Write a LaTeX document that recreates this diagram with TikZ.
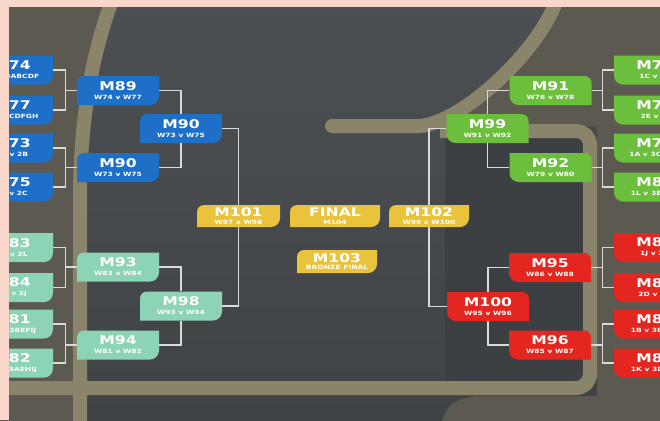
\documentclass[tikz,border=0pt]{standalone}
\usepackage{fontspec}
\newfontfamily\boxfont[FakeStretch=1.3]{DejaVu Sans}
\definecolor{groundtop}{HTML}{4D5053}
\definecolor{groundlow}{HTML}{404346}
\definecolor{pit}{HTML}{3D4043}
\definecolor{side}{HTML}{5C5950}
\definecolor{roadc}{HTML}{8A856A}
\definecolor{wirec}{HTML}{DADADA}
\definecolor{pinkc}{HTML}{F8D6CA}
\definecolor{blueb}{HTML}{1E6FC8}
\definecolor{mintb}{HTML}{8DD3B6}
\definecolor{goldb}{HTML}{E9C33C}
\definecolor{greenb}{HTML}{6CBF3C}
\definecolor{redb}{HTML}{E3261F}
\newcommand\mt[1]{{\fontsize{12}{10}\selectfont #1}}
\newcommand\ms[1]{{\fontsize{5.8}{6}\selectfont #1}}
\newcommand\two[2]{\mt{#1}\\[-3pt]\ms{#2}}
\newcommand\twoy[2]{\mt{#1}\\[-4.5pt]\ms{#2}}

\begin{document}
\begin{tikzpicture}[x=1pt, y=-1pt,
  wire/.style = {draw=wirec, line width=1.3pt},
  road/.style = {draw=roadc, line width=14pt},
  box/.style = {minimum width=82pt, minimum height=29pt, inner sep=0pt,
    text=white, align=center, font=\boxfont\bfseries},
  lbox/.style = {box, path picture={
    \fill[#1] ([yshift=-7pt]path picture bounding box.north west)
      arc[start angle=180, end angle=90, radius=7pt]
      -- (path picture bounding box.north east)
      -- ([yshift=9pt]path picture bounding box.south east)
      arc[start angle=0, end angle=-90, radius=9pt]
      -- (path picture bounding box.south west) -- cycle;}},
  rbox/.style = {box, path picture={
    \fill[#1] (path picture bounding box.north west)
      -- ([xshift=-7pt]path picture bounding box.north east)
      arc[start angle=90, end angle=0, radius=7pt]
      -- (path picture bounding box.south east)
      -- ([xshift=9pt]path picture bounding box.south west)
      arc[start angle=270, end angle=180, radius=9pt] -- cycle;}},
  ybox/.style = {lbox=goldb, minimum height=22pt}]

\useasboundingbox (0,0) rectangle (660,420);
\clip (0,0) rectangle (660,420);

% ground and roads
\shade[top color=groundtop, bottom color=groundlow] (0,0) rectangle (660,420);
\fill[side] (116,-5) .. controls (97,45) and (82,110) .. (82,200) -- (82,425) -- (-5,425) -- (-5,-5) -- cycle;
\fill[side] (558,-5) .. controls (545,45) and (465,122) .. (420,126) -- (597,126) -- (597,425) -- (665,425) -- (665,-5) -- cycle;
\fill[side] (440,425) .. controls (450,402) .. (475,396) -- (665,396) -- (665,425) -- cycle;
\fill[pit, rounded corners=6pt] (445,137) rectangle (583,381);
\draw[road] (114,-5) .. controls (95,45) and (80,110) .. (80,200) -- (80,425);
\draw[road, line cap=round] (558,-5) .. controls (545,45) and (465,122) .. (420,126) -- (332,126);
\draw[road, rounded corners=14pt] (440,131) -- (590,131) -- (590,388) -- (-5,388);

% left side
\node[lbox=blueb] (m74) at (12,70) {\two{M74}{1E v 3ABCDF}};
\node[lbox=blueb] (m77) at (12,110) {\two{M77}{1I v 3CDFGH}};
\node[lbox=blueb] (m73) at (12,148) {\two{M73}{2A v 2B}};
\node[lbox=blueb] (m75) at (12,187) {\two{M75}{1F v 2C}};
\node[lbox=mintb] (m83) at (12,247.5) {\two{M83}{2K v 2L}};
\node[lbox=mintb] (m84) at (12,287.5) {\two{M84}{1H v 2J}};
\node[lbox=mintb] (m81) at (12,324) {\two{M81}{1D v 3BEFIJ}};
\node[lbox=mintb] (m82) at (12,363) {\two{M82}{1G v 3AEHIJ}};

\node[lbox=blueb] (m89) at (118,90.5) {\two{M89}{W74 v W77}};
\node[lbox=blueb] (m90) at (181,128.5) {\two{M90}{W73 v W75}};
\node[lbox=blueb] (m90b) at (118,167.5) {\two{M90}{W73 v W75}};
\node[lbox=mintb] (m93) at (118,267) {\two{M93}{W83 v W84}};
\node[lbox=mintb] (m98) at (181,306) {\two{M98}{W93 v W94}};
\node[lbox=mintb] (m94) at (118,345) {\two{M94}{W81 v W82}};

% centre
\node[ybox, minimum width=83pt] (m101) at (238.5,216) {\twoy{M101}{W97 x W98}};
\node[ybox, minimum width=90pt] (final) at (335,216) {\twoy{FINAL}{M104}};
\node[ybox, minimum width=80pt] (m102) at (429,216) {\twoy{M102}{W99 x W100}};
\node[ybox, minimum width=80pt, minimum height=23pt] (m103) at (337,261.5) {\twoy{M103}{BRONZE FINAL}};

% right side
\node[rbox=greenb] (m91) at (550.5,90.5) {\two{M91}{W76 v W78}};
\node[rbox=greenb] (m99) at (487.5,128.5) {\two{M99}{W91 v W92}};
\node[rbox=greenb] (m92) at (550.5,167.5) {\two{M92}{W79 v W80}};
\node[rbox=redb] (m95) at (550,267.5) {\two{M95}{W86 v W88}};
\node[rbox=redb] (m100) at (488,306.5) {\two{M100}{W95 v W96}};
\node[rbox=redb] (m96) at (550,345) {\two{M96}{W85 v W87}};

\node[rbox=greenb] (m76) at (655,70) {\two{M76}{1C v 2F}};
\node[rbox=greenb] (m78) at (655,110) {\two{M78}{2E v 2I}};
\node[rbox=greenb] (m79) at (655,148) {\two{M79}{1A v 3CEFHI}};
\node[rbox=greenb] (m80) at (655,187) {\two{M80}{1L v 3EHIJK}};
\node[rbox=redb] (m86) at (655,247.5) {\two{M86}{1J v 2H}};
\node[rbox=redb] (m88) at (655,287.5) {\two{M88}{2D v 2G}};
\node[rbox=redb] (m85) at (655,324) {\two{M85}{1B v 3EFGIJ}};
\node[rbox=redb] (m87) at (655,363) {\two{M87}{1K v 3DEIJL}};

% brackets
\draw[wire] (m74.east) -- ++(12,0) |- (m77.east);  \draw[wire] (m89.west) -- ++(-12,0);
\draw[wire] (m73.east) -- ++(12,0) |- (m75.east);  \draw[wire] (m90b.west) -- ++(-12,0);
\draw[wire] (m83.east) -- ++(12,0) |- (m84.east);  \draw[wire] (m93.west) -- ++(-12,0);
\draw[wire] (m81.east) -- ++(12,0) |- (m82.east);  \draw[wire] (m94.west) -- ++(-12,0);
\draw[wire] (m89.east) -| (m90.north);
\draw[wire] (m90b.east) -| (m90.south);
\draw[wire] (m93.east) -| (m98.north);
\draw[wire] (m94.east) -| (m98.south);
\draw[wire] (m90.east) -| (m101.north);
\draw[wire] (m98.east) -| (m101.south);

\draw[wire] (m76.west) -- ++(-11,0) |- (m78.west);  \draw[wire] (m91.east) -- ++(11,0);
\draw[wire] (m79.west) -- ++(-11,0) |- (m80.west);  \draw[wire] (m92.east) -- ++(11,0);
\draw[wire] (m86.west) -- ++(-11,0) |- (m88.west);  \draw[wire] (m95.east) -- ++(11,0);
\draw[wire] (m85.west) -- ++(-11,0) |- (m87.west);  \draw[wire] (m96.east) -- ++(11,0);
\draw[wire] (m91.west) -| (m99.north);
\draw[wire] (m92.west) -| (m99.south);
\draw[wire] (m95.west) -| (m100.north);
\draw[wire] (m96.west) -| (m100.south);
\draw[wire] (m99.west) -| (m102.north);
\draw[wire] (m100.west) -| (m102.south);

% page edge
\fill[pinkc] (0,0) rectangle (660,7);
\fill[pinkc] (0,0) rectangle (9,420);
\end{tikzpicture}
\end{document}
